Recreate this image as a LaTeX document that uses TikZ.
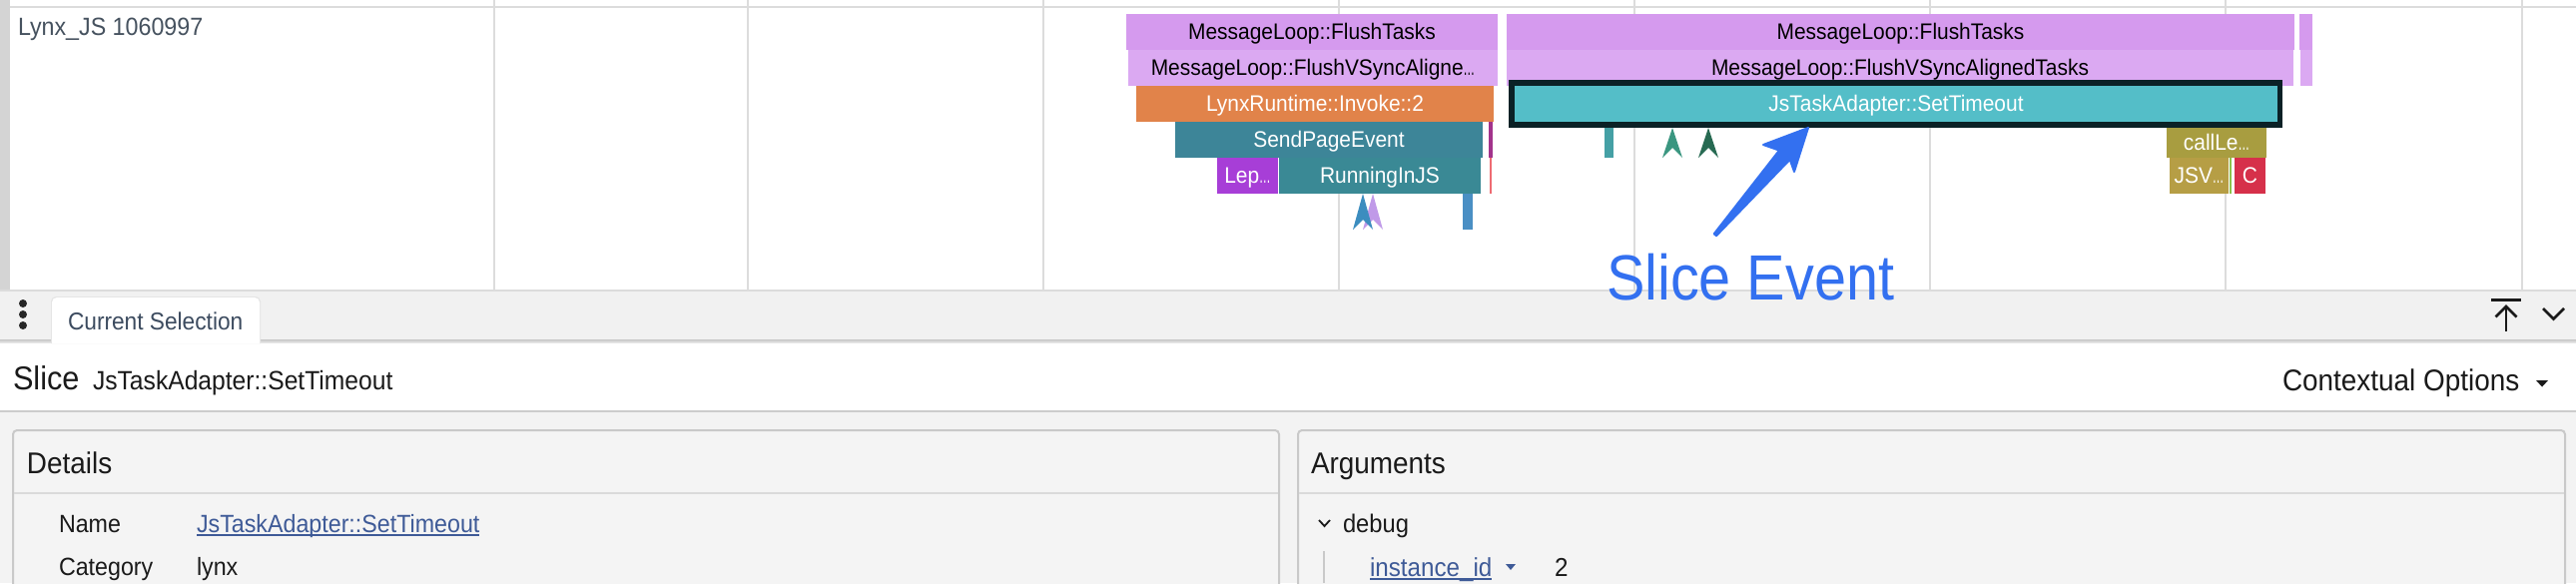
\documentclass[tikz,border=0pt]{standalone}
\usepackage{fontspec}
\usepackage{graphicx}
\setmainfont{Liberation Sans}[FakeStretch=0.93]
\newfontfamily\annfont{Liberation Sans}[FakeStretch=0.9]
\newcommand{\trunc}{\scalebox{0.55}[1]{…}}
\definecolor{leftbar}{HTML}{D4D4D4}
\definecolor{gridc}{HTML}{DCDCDC}
\definecolor{tabbg}{HTML}{F1F1F1}
\definecolor{panelbg}{HTML}{F3F3F3}
\definecolor{cardbg}{HTML}{F4F4F4}
\definecolor{cardline}{HTML}{C9C9C9}
\definecolor{divc}{HTML}{DADADA}
\definecolor{flA}{HTML}{D59AEE}
\definecolor{flB}{HTML}{DBA9F2}
\definecolor{orng}{HTML}{E1834A}
\definecolor{spe}{HTML}{3D8598}
\definecolor{rjs}{HTML}{3A8995}
\definecolor{lep}{HTML}{A73ED7}
\definecolor{stl}{HTML}{54BEC8}
\definecolor{stb}{HTML}{0B2126}
\definecolor{olive}{HTML}{A89D40}
\definecolor{olive2}{HTML}{B69E45}
\definecolor{cred}{HTML}{D6304A}
\definecolor{mag}{HTML}{A2338C}
\definecolor{lred}{HTML}{EE6B72}
\definecolor{tealbar}{HTML}{45A0A5}
\definecolor{chA}{HTML}{3A9680}
\definecolor{chB}{HTML}{276A52}
\definecolor{chC}{HTML}{3C8DBF}
\definecolor{chD}{HTML}{C09AE8}
\definecolor{bluebar}{HTML}{4A8FC4}
\definecolor{gree}{HTML}{8BC34A}
\definecolor{annblue}{HTML}{3370F0}
\definecolor{trk}{HTML}{46525F}
\definecolor{tabtxt}{HTML}{3C4B5F}
\definecolor{linkc}{HTML}{3E5A97}
\definecolor{txt}{HTML}{1A1A1A}
\newcommand{\slc}[8]{%
  \pgfmathsetmacro{\slcx}{(#2+#3)/2}%
  \pgfmathsetmacro{\slcy}{(#4+#5)/2}%
  \pgfmathsetmacro{\slcw}{#3-#2}%
  \pgfmathsetmacro{\slch}{#5-#4}%
  \node[slicebox, fill=#6, text=#7, minimum width=\slcw pt, minimum height=\slch pt] (#1) at (\slcx,\slcy) {#8};}
\newcommand{\chev}[4]{%
  \fill[#4] (#1,#2) -- ($(#1,#3)+(10,0)$) -- ($(#1,#3)+(0,-10)$) -- ($(#1,#3)+(-10,0)$) -- cycle;}
\usetikzlibrary{calc}
\tikzset{
  slicebox/.style={rectangle, inner sep=0pt, outer sep=0pt, text height=15pt, text depth=1pt, font=\fontsize{22.5}{26}\selectfont},
  lbl/.style={inner sep=0pt, outer sep=0pt, anchor=base west, text=txt},
}
\begin{document}
\begin{tikzpicture}[x=1pt,y=-1pt]
\useasboundingbox (0,0) rectangle (2580,584);
% timeline area
\fill[white] (0,0) rectangle (2580,290);
\fill[leftbar] (0,0) rectangle (10,290);
\foreach \gx in {495,749,1045,1341,1637,1933,2229,2526}
  \draw[gridc, line width=1.6pt] (\gx,0) -- (\gx,290);
\draw[gridc, line width=1.6pt] (10,7) -- (2580,7);
\node[lbl, text=trk, font=\fontsize{25}{30}\selectfont] (track) at (18,35) {Lynx\_JS 1060997};
% slices
\slc{ft1}{1128}{1500}{14}{50}{flA}{black}{MessageLoop::FlushTasks}
\slc{ft2}{1509}{2298}{14}{50}{flA}{black}{MessageLoop::FlushTasks}
\slc{ft3}{2303}{2316}{14}{50}{flA}{black}{}
\slc{fv1}{1130}{1500}{50}{86}{flB}{black}{MessageLoop::FlushVSyncAligne\trunc}
\slc{fv2}{1509}{2297}{50}{86}{flB}{black}{MessageLoop::FlushVSyncAlignedTasks}
\slc{fv3}{2304}{2316}{50}{86}{flB}{black}{}
\slc{inv}{1138}{1496}{86}{122}{orng}{white}{LynxRuntime::Invoke::2}
\slc{spev}{1177}{1485}{122}{158}{spe}{white}{SendPageEvent}
\slc{magb}{1491}{1495}{122}{158}{mag}{white}{}
\slc{lepb}{1219}{1280}{158}{194}{lep}{white}{Lep\trunc}
\slc{rjsb}{1281}{1483}{158}{194}{rjs}{white}{RunningInJS}
\slc{redl}{1491.5}{1493.5}{158}{194}{lred}{white}{}
\slc{blb}{1465}{1475}{194}{230}{bluebar}{white}{}
\chev{1375}{194}{230}{chD}
\chev{1365}{194}{230}{chC}
% selected slice
\fill[stb] (1511,80) rectangle (2286,128);
\slc{sto}{1517}{2281}{86}{122}{stl}{white}{JsTaskAdapter::SetTimeout}
\slc{tb}{1607}{1616}{128}{158}{tealbar}{white}{}
\chev{1675}{128}{158}{chA}
\chev{1711}{128}{158}{chB}
\slc{cle}{2170}{2270}{128}{158}{olive}{white}{callLe\trunc}
\slc{jsv}{2173}{2232}{158}{194}{olive2}{white}{JSV\trunc}
\slc{grl}{2233}{2235}{158}{194}{gree}{white}{}
\slc{cc}{2238}{2269}{158}{194}{cred}{white}{C}
% bottom panel
\fill[panelbg] (0,290) rectangle (2580,584);
\fill[tabbg] (0,290) rectangle (2580,343);
\draw[gridc, line width=2pt] (0,291) -- (2580,291);
\shade[top color=black!22, bottom color=tabbg] (0,340) rectangle (2580,344);
\fill[white] (0,344) rectangle (2580,411);
\draw[black!20, line width=2pt] (0,412) -- (2580,412);
% tab
\fill[black!10] (51,344) [rounded corners=5pt]-- (51,297) -- (261,297) [sharp corners]-- (261,344) -- cycle;
\fill[white] (52,344) [rounded corners=5pt]-- (52,298) -- (260,298) [sharp corners]-- (260,344) -- cycle;
\node[lbl, text=tabtxt, font=\fontsize{24.4}{28}\selectfont] (tab) at (68,330) {Current Selection};
\foreach \dy in {304,315,326} \fill[black!85] (23,\dy) circle (4);
% icons
\draw[black!90, line width=3pt] (2495,300) -- (2525,300);
\draw[black!90, line width=2.6pt] (2510,332) -- (2510,308);
\draw[black!90, line width=2.6pt] (2499.5,317.5) -- (2510,307) -- (2520.5,317.5);
\draw[black!90, line width=2.6pt] (2547,309) -- (2557.5,319.5) -- (2568,309);
% header
\node[lbl, font=\fontsize{33}{38}\selectfont] (slicehd) at (13,390) {Slice};
\node[lbl, font=\fontsize{26.5}{30}\selectfont] (slicenm) at (93,390) {JsTaskAdapter::SetTimeout};
\node[lbl, font=\fontsize{30}{34}\selectfont] (ctx) at (2286,391) {Contextual Options};
\fill[txt] (2540,381) -- (2552,381) -- (2546,387.5) -- cycle;
% cards
\draw[cardline, fill=cardbg, line width=2pt, rounded corners=4pt] (13,431) rectangle (1281,620);
\draw[divc, line width=2pt] (14,494) -- (1280,494);
\draw[cardline, fill=cardbg, line width=2pt, rounded corners=4pt] (1300,431) rectangle (2569,620);
\draw[divc, line width=2pt] (1301,494) -- (2568,494);
\node[lbl, font=\fontsize{30}{34}\selectfont] (det) at (27,474) {Details};
\node[lbl, font=\fontsize{25}{30}\selectfont] (nm) at (59,533) {Name};
\node[lbl, text=linkc, font=\fontsize{25}{30}\selectfont] (lnk) at (197,533) {JsTaskAdapter::SetTimeout};
\draw[linkc, line width=1.5pt] ([yshift=-3pt]lnk.base west) -- ([yshift=-3pt]lnk.base east);
\node[lbl, font=\fontsize{25}{30}\selectfont] (cat) at (59,576) {Category};
\node[lbl, font=\fontsize{25}{30}\selectfont] (lynx) at (197,576) {lynx};
\node[lbl, font=\fontsize{30}{34}\selectfont] (args) at (1313,474) {Arguments};
\draw[txt, line width=1.8pt] (1321,521) -- (1326.5,527) -- (1332,521);
\node[lbl, font=\fontsize{25.5}{30}\selectfont] (dbg) at (1345,533) {debug};
\draw[cardline, line width=2pt] (1326,552) -- (1326,584);
\node[lbl, text=linkc, font=\fontsize{26}{30}\selectfont] (iid) at (1372,577) {instance\_id};
\draw[linkc, line width=1.5pt] ([yshift=-3pt]iid.base west) -- ([yshift=-3pt]iid.base east);
\fill[linkc] (1508,565) -- (1518,565) -- (1513,571) -- cycle;
\node[lbl, font=\fontsize{26}{30}\selectfont] (val) at (1557,577) {2};
% annotation
\node[lbl, text=annblue, font=\annfont\fontsize{64}{70}\selectfont] (ann) at (1609,300) {Slice Event};
\coordinate (tip) at (1811,128);
\fill[annblue, draw=annblue, line width=2pt, line join=round]
  (tip) -- (1766,145) -- (1782,150.6) -- (1716.7,234.2) -- (1719,236.2)
  -- (1792.7,159.8) -- (1797,172) -- cycle;
\end{tikzpicture}
\end{document}
